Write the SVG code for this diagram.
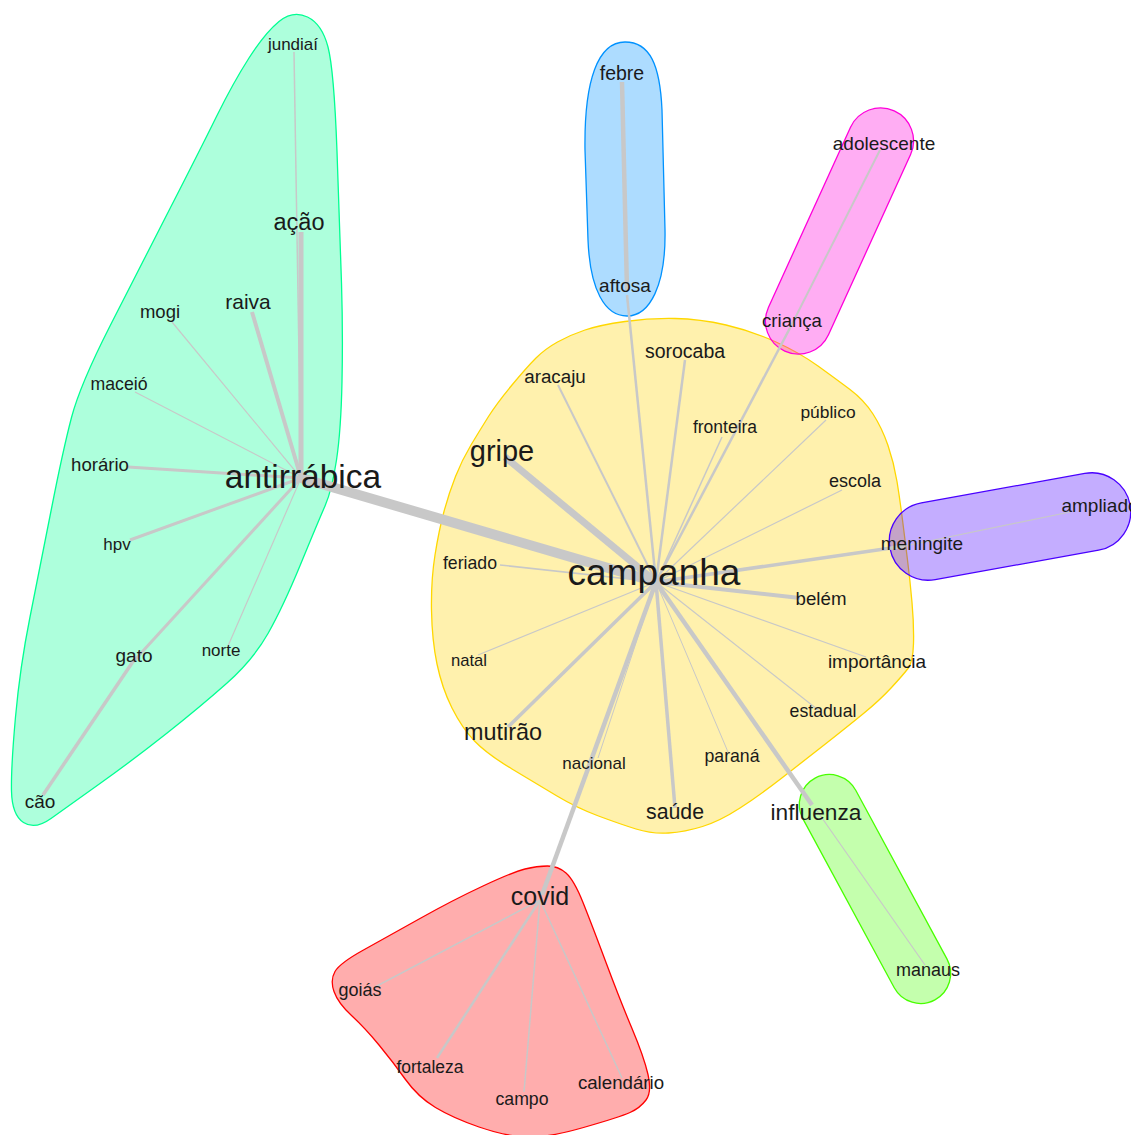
<svg xmlns="http://www.w3.org/2000/svg" width="1131" height="1135" viewBox="0 0 1131 1135">
<style>
.lbl{font-family:"Liberation Sans",Arial,sans-serif;fill:#1a1a1a;text-anchor:middle}
.e{stroke:#c8c8c8;fill:none;stroke-linecap:butt}
.h{stroke-width:1.3}
</style>
<rect width="1131" height="1135" fill="#ffffff"/>
<g id="communities">
<path id="hull-antirrabica" class="h" fill="#00FF92" fill-opacity="0.32" stroke="#00FF92" d="M279,21.5 Q293,10 307.5,17 Q322,24 328,47 Q334,70 337,151.5 Q340,233 341.5,283 Q343,333 342,381.5 Q341,430 336.5,460 Q332,490 325,506 Q318,522 300.5,564.5 Q283,607 268,633.5 Q253,660 226.5,683.5 Q200,707 166.5,733.5 Q133,760 100,783.5 Q67,807 51,818.5 Q35,830 23.5,822.5 Q12,815 11.5,791 Q11,767 15.5,717 Q20,667 30,617 Q40,567 51.5,508.5 Q63,450 71.5,417.5 Q80,385 110,326 Q140,267 170,208.5 Q200,150 216.5,116.5 Q233,83 249,58 Q265,33 279,21.5 Z"/>
<path id="hull-campanha" class="h" fill="#FFD200" fill-opacity="0.32" stroke="#FFD700" d="M625,321.5 Q650,318 675,318.5 Q700,319 726,325 Q752,331 776,342 Q800,353 818,366 Q836,379 850,389.5 Q864,400 873,414 Q882,428 888,445.5 Q894,463 897,481.5 Q900,500 902.5,520 Q905,540 907.5,560 Q910,580 912,602.5 Q914,625 913.5,643.5 Q913,662 908,668.5 Q903,675 891.5,687.5 Q880,700 863.5,713.5 Q847,727 826,743.5 Q805,760 782.5,777.5 Q760,795 740,808 Q720,821 702.5,826.5 Q685,832 668.5,833 Q652,834 636,829 Q620,824 598.5,816 Q577,808 557,796 Q537,784 512,769 Q487,754 474.5,741 Q462,728 452,708 Q442,688 437,664 Q432,640 431.5,610 Q431,580 435,555 Q439,530 444,511.5 Q449,493 455.5,476.5 Q462,460 471,445 Q480,430 488.5,416.5 Q497,403 512,385 Q527,367 536,358 Q545,349 557.5,342 Q570,335 585,330 Q600,325 625,321.5 Z"/>
<path id="hull-febre" class="h" fill="#0092FF" fill-opacity="0.32" stroke="#0092FF" d="M625,42 C650,42 660,65 662,110 L665,230 C666,285 650,316 627,316 C605,316 590,290 588,240 L585,150 C584,80 598,42 625,42 Z"/>
<rect id="hull-adolescente" class="h" x="806.5" y="99" width="66" height="264" rx="33" ry="33" transform="rotate(24.5 839.5 231)" fill="#FF00DB" fill-opacity="0.32" stroke="#FF00DB"/>
<rect id="hull-meningite" class="h" x="888" y="487.5" width="244" height="78" rx="39" ry="39" transform="rotate(-10.2 1010 526.5)" fill="#4900FF" fill-opacity="0.32" stroke="#4900FF"/>
<rect id="hull-influenza" class="h" x="845" y="763" width="60" height="252" rx="30" ry="30" transform="rotate(-28.4 875 889)" fill="#49FF00" fill-opacity="0.32" stroke="#49FF00"/>
<path id="hull-covid" class="h" fill="#FF0000" fill-opacity="0.32" stroke="#FF0000" d="M525,869 Q537,866 547.5,866 Q558,866 566,873 Q574,880 583,902.5 Q592,925 606,962.5 Q620,1000 632,1028.5 Q644,1057 648,1074.5 Q652,1092 646,1100 Q640,1108 630,1112.5 Q620,1117 583.5,1127.5 Q547,1138 526,1137 Q505,1136 479,1127 Q453,1118 435.5,1107.5 Q418,1097 405.5,1079.5 Q393,1062 379,1045 Q365,1028 351.5,1015.5 Q338,1003 334,991.5 Q330,980 335,971.5 Q340,963 363.5,950 Q387,937 420,918.5 Q453,900 483,886 Q513,872 525,869 Z"/>
</g>
<g id="connectors">
<line class="e" x1="656" y1="582" x2="301" y2="478" stroke-width="10"/>
<line class="e" x1="656" y1="582" x2="505" y2="457" stroke-width="7"/>
<line class="e" x1="656" y1="582" x2="558" y2="385" stroke-width="2"/>
<line class="e" x1="656" y1="582" x2="627" y2="295" stroke-width="2.5"/>
<line class="e" x1="656" y1="582" x2="685" y2="360" stroke-width="2.5"/>
<line class="e" x1="656" y1="582" x2="722" y2="437" stroke-width="1.5"/>
<line class="e" x1="656" y1="582" x2="790" y2="328" stroke-width="2.5"/>
<line class="e" x1="656" y1="582" x2="826" y2="420" stroke-width="1.2"/>
<line class="e" x1="656" y1="582" x2="842" y2="490" stroke-width="1.2"/>
<line class="e" x1="656" y1="582" x2="905" y2="546" stroke-width="3.5"/>
<line class="e" x1="656" y1="582" x2="800" y2="598" stroke-width="4"/>
<line class="e" x1="656" y1="582" x2="866" y2="657" stroke-width="1.2"/>
<line class="e" x1="656" y1="582" x2="822" y2="713" stroke-width="1.2"/>
<line class="e" x1="656" y1="582" x2="728" y2="752" stroke-width="1"/>
<line class="e" x1="656" y1="582" x2="812" y2="805" stroke-width="4.5"/>
<line class="e" x1="656" y1="582" x2="675" y2="808" stroke-width="3.5"/>
<line class="e" x1="656" y1="582" x2="598" y2="758" stroke-width="1"/>
<line class="e" x1="656" y1="582" x2="542" y2="895" stroke-width="4.5"/>
<line class="e" x1="656" y1="582" x2="508" y2="727" stroke-width="3.5"/>
<line class="e" x1="656" y1="582" x2="478" y2="655" stroke-width="1.2"/>
<line class="e" x1="656" y1="582" x2="500" y2="565" stroke-width="1.5"/>
<line class="e" x1="301" y1="478" x2="301" y2="232" stroke-width="5"/>
<line class="e" x1="301" y1="478" x2="294" y2="52" stroke-width="1.5"/>
<line class="e" x1="301" y1="478" x2="252" y2="312" stroke-width="4"/>
<line class="e" x1="301" y1="478" x2="172" y2="322" stroke-width="1.2"/>
<line class="e" x1="301" y1="478" x2="135" y2="392" stroke-width="1.2"/>
<line class="e" x1="301" y1="478" x2="128" y2="467" stroke-width="3"/>
<line class="e" x1="301" y1="478" x2="130" y2="540" stroke-width="3"/>
<line class="e" x1="301" y1="478" x2="132" y2="663" stroke-width="3"/>
<line class="e" x1="301" y1="478" x2="228" y2="646" stroke-width="1.2"/>
<line class="e" x1="132" y1="663" x2="43" y2="795" stroke-width="3.5"/>
<line class="e" x1="622" y1="82" x2="627" y2="290" stroke-width="4.5"/>
<line class="e" x1="880" y1="150" x2="790" y2="328" stroke-width="2"/>
<line class="e" x1="905" y1="546" x2="1070" y2="512" stroke-width="1.2"/>
<line class="e" x1="815" y1="808" x2="925" y2="965" stroke-width="1.2"/>
<line class="e" x1="540" y1="900" x2="375" y2="987" stroke-width="1.5"/>
<line class="e" x1="540" y1="900" x2="437" y2="1058" stroke-width="2.5"/>
<line class="e" x1="540" y1="900" x2="524" y2="1092" stroke-width="1.5"/>
<line class="e" x1="540" y1="900" x2="622" y2="1078" stroke-width="1.5"/>
</g>
<g id="node-campanha"><text class="lbl" x="654" y="585" font-size="37">campanha</text></g>
<g id="node-antirrabica"><text class="lbl" x="303" y="488" font-size="33.5">antirrábica</text></g>
<g id="node-gripe"><text class="lbl" x="502" y="461" font-size="29">gripe</text></g>
<g id="node-acao"><text class="lbl" x="299" y="230" font-size="23.5">ação</text></g>
<g id="node-jundiai"><text class="lbl" x="293" y="50" font-size="17">jundiaí</text></g>
<g id="node-raiva"><text class="lbl" x="248" y="309" font-size="21">raiva</text></g>
<g id="node-mogi"><text class="lbl" x="160" y="318" font-size="18.5">mogi</text></g>
<g id="node-maceio"><text class="lbl" x="119" y="390" font-size="17.7">maceió</text></g>
<g id="node-horario"><text class="lbl" x="100" y="471" font-size="18.6">horário</text></g>
<g id="node-hpv"><text class="lbl" x="117" y="550" font-size="17">hpv</text></g>
<g id="node-gato"><text class="lbl" x="134" y="662" font-size="19">gato</text></g>
<g id="node-norte"><text class="lbl" x="221" y="656" font-size="17">norte</text></g>
<g id="node-cao"><text class="lbl" x="40" y="808" font-size="19">cão</text></g>
<g id="node-febre"><text class="lbl" x="622" y="80" font-size="19.5">febre</text></g>
<g id="node-aftosa"><text class="lbl" x="625" y="292" font-size="19">aftosa</text></g>
<g id="node-adolescente"><text class="lbl" x="884" y="150" font-size="19">adolescente</text></g>
<g id="node-crianca"><text class="lbl" x="792" y="327" font-size="18.6">criança</text></g>
<g id="node-aracaju"><text class="lbl" x="555" y="383" font-size="18.8">aracaju</text></g>
<g id="node-sorocaba"><text class="lbl" x="685" y="358" font-size="19.5">sorocaba</text></g>
<g id="node-fronteira"><text class="lbl" x="725" y="433" font-size="17.5">fronteira</text></g>
<g id="node-publico"><text class="lbl" x="828" y="418" font-size="17.4">público</text></g>
<g id="node-escola"><text class="lbl" x="855" y="487" font-size="18">escola</text></g>
<g id="node-meningite"><text class="lbl" x="922" y="550" font-size="19">meningite</text></g>
<g id="node-ampliado"><text class="lbl" x="1100" y="512" font-size="19">ampliado</text></g>
<g id="node-belem"><text class="lbl" x="821" y="605" font-size="18.7">belém</text></g>
<g id="node-importancia"><text class="lbl" x="877" y="668" font-size="19">importância</text></g>
<g id="node-estadual"><text class="lbl" x="823" y="717" font-size="17.7">estadual</text></g>
<g id="node-parana"><text class="lbl" x="732" y="762" font-size="17.7">paraná</text></g>
<g id="node-saude"><text class="lbl" x="675" y="819" font-size="21.3">saúde</text></g>
<g id="node-nacional"><text class="lbl" x="594" y="769" font-size="17">nacional</text></g>
<g id="node-mutirao"><text class="lbl" x="503" y="740" font-size="23.4">mutirão</text></g>
<g id="node-natal"><text class="lbl" x="469" y="666" font-size="16.6">natal</text></g>
<g id="node-feriado"><text class="lbl" x="470" y="569" font-size="17.7">feriado</text></g>
<g id="node-influenza"><text class="lbl" x="816" y="820" font-size="22.7">influenza</text></g>
<g id="node-manaus"><text class="lbl" x="928" y="976" font-size="18">manaus</text></g>
<g id="node-covid"><text class="lbl" x="540" y="905" font-size="25">covid</text></g>
<g id="node-goias"><text class="lbl" x="360" y="996" font-size="18">goiás</text></g>
<g id="node-fortaleza"><text class="lbl" x="430" y="1073" font-size="17.5">fortaleza</text></g>
<g id="node-campo"><text class="lbl" x="522" y="1105" font-size="17.7">campo</text></g>
<g id="node-calendario"><text class="lbl" x="621" y="1089" font-size="18.7">calendário</text></g>
</svg>
